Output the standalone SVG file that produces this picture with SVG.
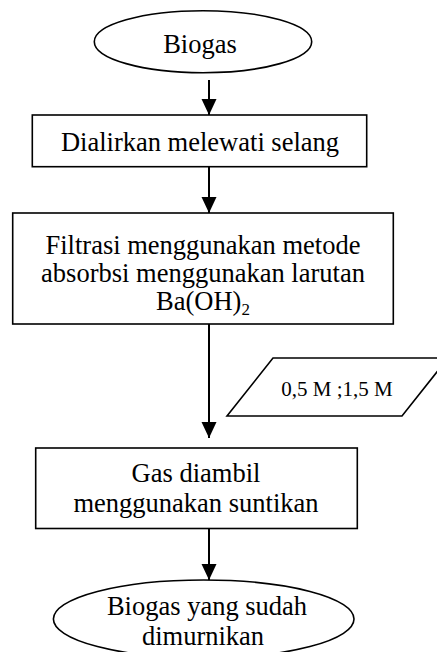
<svg xmlns="http://www.w3.org/2000/svg" width="437" height="652" viewBox="0 0 437 652">
<defs>
<marker id="ah2" markerUnits="userSpaceOnUse" markerWidth="16" markerHeight="16" refX="16" refY="7.5" orient="auto" viewBox="0 0 16 15">
<path d="M0,0 L16,7.5 L0,15 Z" fill="#000"/>
</marker>
<style>
.shape{fill:#fff;stroke:#000;stroke-width:1.6}
.lbl{font-family:'Liberation Serif',serif;font-size:26.5px;fill:#000;text-anchor:middle}
.sml{font-family:'Liberation Serif',serif;font-size:21px;fill:#000;text-anchor:middle}
.conn{stroke:#000;stroke-width:2;fill:none;marker-end:url(#ah2)}
</style>
</defs>
<rect width="437" height="652" fill="#fff"/>
<g id="connectors">
<line class="conn" x1="209" y1="80" x2="209" y2="115"/>
<line class="conn" x1="209" y1="167" x2="209" y2="213"/>
<line class="conn" x1="209" y1="324" x2="209" y2="438"/>
<line class="conn" x1="209" y1="529" x2="209" y2="580"/>
</g>
<g id="start">
<ellipse class="shape" cx="203" cy="41.7" rx="108.7" ry="31"/>
<text class="lbl" font-family="Liberation Serif, serif" x="200" y="53">Biogas</text>
</g>
<g id="step1">
<rect class="shape" x="32.3" y="115" width="334.4" height="51.7"/>
<text class="lbl" font-family="Liberation Serif, serif" x="200" y="150.5">Dialirkan melewati selang</text>
</g>
<g id="step2">
<rect class="shape" x="12.7" y="213" width="380.6" height="111"/>
<text class="lbl" font-family="Liberation Serif, serif" x="203" y="254">Filtrasi menggunakan metode</text>
<text class="lbl" font-family="Liberation Serif, serif" x="203" y="282">absorbsi menggunakan larutan</text>
<text class="lbl" font-family="Liberation Serif, serif" x="203" y="310">Ba(OH)<tspan font-size="17" dy="5">2</tspan></text>
</g>
<g id="input">
<polygon class="shape" points="273,358 448,358 402,416 227,416"/>
<text class="sml" font-family="Liberation Serif, serif" x="337" y="396">0,5 M ;1,5 M</text>
</g>
<g id="step3">
<rect class="shape" x="35.7" y="448" width="321.6" height="80.5"/>
<text class="lbl" font-family="Liberation Serif, serif" x="196" y="482">Gas diambil</text>
<text class="lbl" font-family="Liberation Serif, serif" x="196" y="512">menggunakan suntikan</text>
</g>
<g id="end">
<ellipse class="shape" cx="203.7" cy="619" rx="150.3" ry="39"/>
<text class="lbl" font-family="Liberation Serif, serif" x="207" y="615">Biogas yang sudah</text>
<text class="lbl" font-family="Liberation Serif, serif" x="203" y="645">dimurnikan</text>
</g>
</svg>
